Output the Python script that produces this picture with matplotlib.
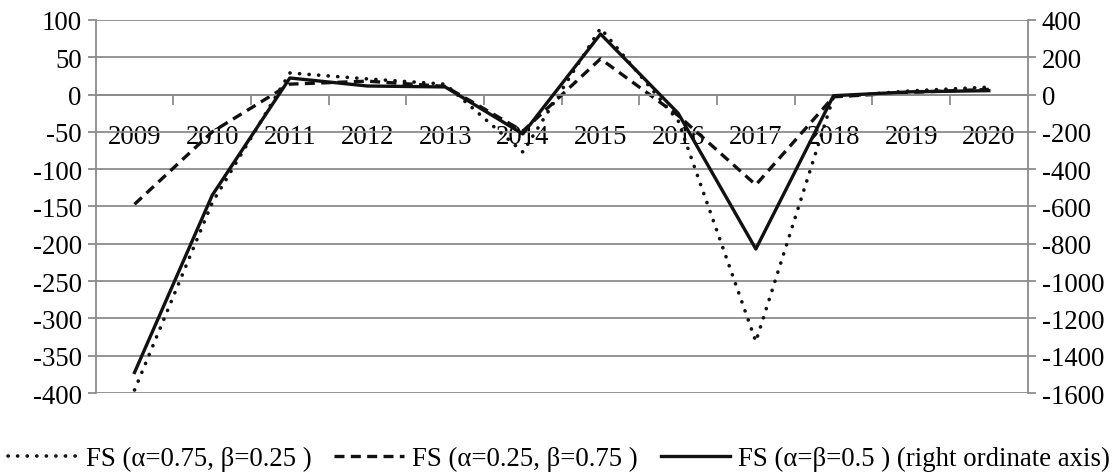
import numpy as np
import matplotlib
matplotlib.use("Agg")
import matplotlib.pyplot as plt
from matplotlib.ticker import FixedLocator

plt.rcParams['font.family'] = ['Liberation Serif', 'DejaVu Serif']
plt.rcParams['axes.unicode_minus'] = False

years = ['2009', '2010', '2011', '2012', '2013', '2014', '2015', '2016', '2017', '2018', '2019', '2020']
# left axis
fs_075 = [-396, -145, 29, 21, 14, -77, 89, -35, -331, -3, 5, 10]
fs_025 = [-147, -50, 14, 18, 11, -49, 48, -28, -121, -3, 3, 7]
# right axis
fs_05 = [-1490, -540, 89, 46, 41, -211, 325, -100, -828, -6, 15, 21]

grid_c = '#8c8c8c'
fsz = 19.3
x = np.arange(len(years))

fig = plt.figure(figsize=(11.14, 4.77), dpi=100)
ax = fig.add_axes([0.0859, 0.174, 0.9225 - 0.0859, 0.956 - 0.174])
ax2 = ax.twinx()

ax.plot(x, fs_075, color='#111111', lw=2.6, linestyle=(0, (0.05, 2.6)),
        dash_capstyle='round', label='FS (α=0.75, β=0.25 )')
ax.plot(x, fs_025, color='#111111', lw=2.4, linestyle=(0, (3, 1.9)),
        label='FS (α=0.25, β=0.75 )')
ax2.plot(x, fs_05, color='#111111', lw=2.4, label='FS (α=β=0.5 ) (right ordinate axis)')

ax.set_xlim(-0.5, len(years) - 0.5)
ax.set_ylim(-400, 100)
ax.set_yticks(np.arange(-400, 101, 50))
ax2.set_ylim(-1600, 400)
ax2.set_yticks(np.arange(-1600, 401, 200))

ax.yaxis.grid(True, color=grid_c, lw=1.3)
ax.set_axisbelow(True)

ax.spines['top'].set_visible(False)
ax2.spines['top'].set_visible(False)
ax2.spines['bottom'].set_visible(False)
ax2.spines['left'].set_visible(False)
ax.spines['right'].set_visible(False)
ax.spines['left'].set_color(grid_c)
ax.spines['left'].set_linewidth(1.3)
ax2.spines['right'].set_color(grid_c)
ax2.spines['right'].set_linewidth(1.3)
ax.spines['bottom'].set_position(('data', 0))
ax.spines['bottom'].set_color(grid_c)
ax.spines['bottom'].set_linewidth(1.3)

ax.set_xticks(x)
ax.set_xticklabels(years)
ax.xaxis.set_minor_locator(FixedLocator(np.arange(-0.5, len(years), 1.0)[1:-1]))
ax.tick_params(axis='x', which='major', length=0, pad=21, labelsize=fsz)
ax.tick_params(axis='x', which='minor', length=7, width=1.3, color=grid_c, direction='out')
ax.tick_params(axis='y', length=6, width=1.3, color=grid_c, labelsize=fsz, pad=4)
ax2.tick_params(axis='y', length=6, width=1.3, color=grid_c, labelsize=fsz, pad=4)

h1, l1 = ax.get_legend_handles_labels()
h2, l2 = ax2.get_legend_handles_labels()
fig.legend(h1 + h2, l1 + l2, loc='center', bbox_to_anchor=(0.502, 0.036), ncol=3,
           frameon=False, fontsize=fsz, handlelength=2.6, handletextpad=0.3,
           columnspacing=0.85, borderpad=0, borderaxespad=0)

fig.savefig('out.png', dpi=100)
